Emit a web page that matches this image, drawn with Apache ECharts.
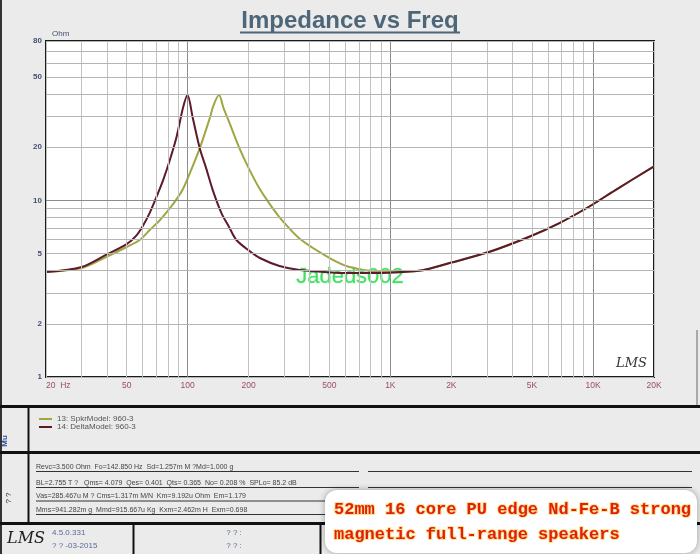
<!DOCTYPE html>
<html>
<head>
<meta charset="utf-8">
<script src="https://cdn.jsdelivr.net/npm/echarts@6/dist/echarts.min.js"></script>
<style>
html,body{margin:0;padding:0;background:#ebebeb;}
#main{width:700px;height:554px;}
</style>
</head>
<body>
<div id="main"></div>
<script>
// curve 13: SpkrModel (olive)
var spkrFreq = [20, 30, 40, 50, 58, 65, 73, 81.6, 88.4, 94.8, 102.6, 114.8, 128.6, 134.3, 142.85, 150.2, 161, 180, 202, 227, 263, 294, 356, 502, 630, 855, 1110, 1440, 1960, 3090, 4850, 6790, 9550, 12900, 20000];
var spkrOhm  = [3.93, 4.14, 4.81, 5.45, 5.97, 6.8, 7.75, 9.02, 10.2, 11.6, 14.3, 19.8, 29.3, 34.7, 39.5, 33.4, 27.4, 19.8, 14.9, 11.6, 9.02, 7.66, 6.09, 4.72, 4.2, 3.96, 3.94, 4.02, 4.42, 5.12, 6.23, 7.42, 9.21, 11.45, 15.6];
// curve 14: DeltaModel (maroon)
var deltaFreq = [20, 30, 40, 50, 55.5, 60, 65, 70, 75.6, 81.6, 88.4, 94.8, 99.8, 106, 114.8, 123, 133, 147, 160, 174, 202, 227, 284, 356, 630, 988, 1440, 1960, 3090, 4850, 6790, 9550, 12900, 20000];
var deltaOhm  = [3.93, 4.2, 4.95, 5.66, 6.28, 7.15, 8.5, 10.4, 13.0, 16.9, 23.2, 33.4, 39.5, 29.3, 19.7, 15.4, 11.45, 8.45, 7.08, 5.97, 5.17, 4.72, 4.25, 4.04, 3.88, 3.9, 4.02, 4.42, 5.12, 6.23, 7.42, 9.21, 11.45, 15.6];

var xTicks = [20, 50, 100, 200, 500, 1000, 2000, 5000, 10000, 20000];
var xTickLabels = ['20  Hz', '50', '100', '200', '500', '1K', '2K', '5K', '10K', '20K'];
var yTicks = [1, 2, 5, 10, 20, 50, 80];

var seriesNames = ['13: SpkrModel: 960-3', '14: DeltaModel: 960-3'];

var params = [
    'Revc=3.500 Ohm  Fo=142.850 Hz  Sd=1.257m M ?Md=1.000 g',
    'BL=2.755 T ?   Qms= 4.079  Qes= 0.401  Qts= 0.365  No= 0.208 %  SPLo= 85.2 dB',
    'Vas=285.467u M ? Cms=1.317m M/N  Km=9.192u Ohm  Em=1.179',
    'Mms=941.282m g  Mmd=915.667u Kg  Kxm=2.462m H  Exm=0.698'
];

function pairs(f, z) {
    var out = [];
    for (var i = 0; i < f.length; i++) out.push([f[i], z[i]]);
    return out;
}

// log grid lines 1..9 per decade
var xGrid = [], yGrid = [];
[10, 100, 1000, 10000].forEach(function (d) {
    for (var k = 1; k < 10; k++) {
        var v = d * k;
        if (v >= 20 && v <= 20000) xGrid.push(v);
    }
});
[1, 10].forEach(function (d) {
    for (var k = 1; k < 10; k++) {
        var v = d * k;
        if (v <= 80) yGrid.push(v);
    }
});
var gridLines = [];
xGrid.forEach(function (v) {
    var major = (v === 100 || v === 1000 || v === 10000);
    gridLines.push([{coord: [v, 1], lineStyle: {color: major ? '#8c8c8c' : '#c2c2c2', width: 1, type: 'solid'}}, {coord: [v, 80]}]);
});
yGrid.forEach(function (v) {
    var major = (v === 10);
    gridLines.push([{coord: [20, v], lineStyle: {color: major ? '#8c8c8c' : '#b4b4b4', width: 1, type: 'solid'}}, {coord: [20000, v]}]);
});

var g = [];
function hline(x1, x2, y, w, c) { g.push({type: 'line', silent: true, shape: {x1: x1, y1: y, x2: x2, y2: y}, style: {stroke: c || '#111', lineWidth: w || 1}}); }
function vline(x, y1, y2, w, c) { g.push({type: 'line', silent: true, shape: {x1: x, y1: y1, x2: x, y2: y2}, style: {stroke: c || '#111', lineWidth: w || 1}}); }
function txt(s, x, y, font, fill, extra) {
    var o = {type: 'text', silent: true, x: x, y: y, style: {text: s, font: font, fill: fill, textVerticalAlign: 'middle'}};
    if (extra) for (var k in extra) o.style[k] = extra[k];
    g.push(o);
    return o;
}

// title with underline
txt('Impedance vs Freq', 350, 21, 'bold 24px "Liberation Sans", Arial', '#4d6678', {textAlign: 'center'});
hline(240, 460, 32.5, 2, '#4d6678');

// plot logo
txt('LMS', 616, 364, 'italic 13px "DejaVu Serif"', '#333');

// outer frame
vline(1, 0, 554, 2, '#333');
vline(697, 330, 406, 1, '#666');

// legend panel
hline(0, 700, 406.5, 3);
hline(0, 700, 452.5, 3);
vline(28.5, 406, 523, 2);
var mu = txt('Mu', 5, 441, 'bold 8px "Liberation Sans"', '#2a4a9a', {textAlign: 'center'});
mu.rotation = Math.PI / 2;
var qq = txt('? ?', 9, 498, '8px "Liberation Sans"', '#333', {textAlign: 'center'});
qq.rotation = Math.PI / 2;

// parameter rows
var rowY = [467, 483, 496.5, 510];
for (var i = 0; i < params.length; i++) {
    txt(params[i], 36, rowY[i], '7px "Liberation Sans Narrow", "Liberation Sans"', '#444');
    hline(36, 359, rowY[i] + 4.5, 1, '#333');
    hline(368, 692, rowY[i] + 4.5, 1, '#333');
}

// footer box
hline(0, 700, 523.5, 3);
vline(133.5, 523, 554, 2);
vline(320.5, 523, 554, 2);
txt('LMS', 7, 539, 'italic 16px "DejaVu Serif"', '#222');
txt('4.5.0.331', 52, 533, '8px "Liberation Sans"', '#5a6a9a');
txt('? ? -03-2015', 52, 546, '8px "Liberation Sans"', '#5a6a9a');
txt('? ? :', 234, 533, '8px "Liberation Sans"', '#5a6a9a', {textAlign: 'center'});
txt('? ? :', 234, 546, '8px "Liberation Sans"', '#5a6a9a', {textAlign: 'center'});

// overlay caption
g.push({type: 'rect', silent: true, shape: {x: 325, y: 490, width: 372, height: 63, r: 12},
    style: {fill: '#ffffff', shadowBlur: 6, shadowColor: 'rgba(0,0,0,0.35)'}});
var capStyle = {stroke: 'rgba(255,215,110,0.75)', lineWidth: 2};
txt('52mm 16 core PU edge Nd-Fe-B strong', 334, 510, 'bold 17px "Liberation Mono"', '#e0200c', capStyle);
txt('magnetic full-range speakers', 334, 535, 'bold 17px "Liberation Mono"', '#e0200c', capStyle);

// watermark
txt('Jadeds002', 350, 277, '22px "Liberation Sans", Arial', '#45dd62', {textAlign: 'center', stroke: 'rgba(150,255,170,0.6)', lineWidth: 1});

var myChart = echarts.init(document.getElementById('main'), null, {renderer: 'canvas'});
myChart.setOption({
    backgroundColor: '#ebebeb',
    animation: false,
    grid: {
        left: 46, right: 46, top: 41, bottom: 177,
        show: true, backgroundColor: '#ffffff', borderColor: '#1a1a1a', borderWidth: 2,
        containLabel: false
    },
    legend: {
        data: seriesNames,
        orient: 'vertical',
        left: 34, top: 410,
        icon: 'rect',
        itemWidth: 13, itemHeight: 2, itemGap: 0,
        textStyle: {fontSize: 8, color: '#555', fontFamily: 'Liberation Sans'}
    },
    xAxis: {
        type: 'log', logBase: 10, min: 20, max: 20000,
        axisLine: {show: false}, axisTick: {show: false}, splitLine: {show: false},
        axisLabel: {
            customValues: xTicks,
            margin: 4,
            fontSize: 8.5,
            fontFamily: '"Liberation Sans Narrow", "Liberation Sans"',
            color: '#9a4a6a',
            alignMinLabel: 'left',
            formatter: function (v) {
                var i = xTicks.indexOf(Math.round(v));
                return i >= 0 ? xTickLabels[i] : '';
            }
        }
    },
    yAxis: {
        type: 'log', logBase: 10, min: 1, max: 80,
        name: 'Ohm', nameLocation: 'end', nameGap: 3,
        nameTextStyle: {fontSize: 8, color: '#44506e', align: 'left', padding: [0, 0, 0, 6]},
        axisLine: {show: false}, axisTick: {show: false}, splitLine: {show: false},
        axisLabel: {
            customValues: yTicks,
            margin: 4,
            fontSize: 8,
            fontWeight: 'bold',
            color: '#44506e',
            formatter: function (v) { return String(Math.round(v)); }
        }
    },
    series: [
        {
            name: 'grid', type: 'line', data: [], z: 1, silent: true,
            markLine: {silent: true, symbol: ['none', 'none'], label: {show: false}, animation: false, data: gridLines}
        },
        {
            name: seriesNames[0], type: 'line', data: pairs(spkrFreq, spkrOhm), z: 3,
            showSymbol: false, smooth: 0.3,
            lineStyle: {color: '#a0a640', width: 2}, itemStyle: {color: '#a0a640'}
        },
        {
            name: seriesNames[1], type: 'line', data: pairs(deltaFreq, deltaOhm), z: 4,
            showSymbol: false, smooth: 0.3,
            lineStyle: {color: '#5e1a2a', width: 2}, itemStyle: {color: '#5e1a2a'}
        }
    ],
    graphic: g
});
</script>
</body>
</html>
